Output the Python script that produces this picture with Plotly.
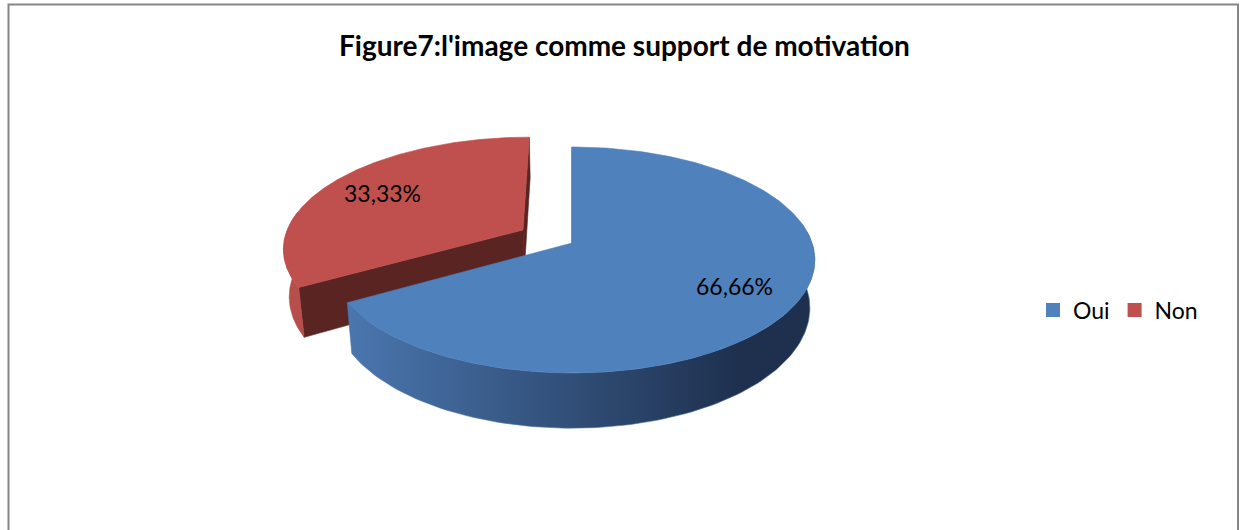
import numpy as np
import plotly.graph_objects as go

# ---------------- data ----------------
categories = ["Oui", "Non"]
percentages = [66.66, 33.33]
value_labels = ["66,66%", "33,33%"]

# ---------------- style ----------------
top_colors = ["#4f81bd", "#c0504d"]
wall_left_colors = ["#4a76ae", "#b64e4a"]
wall_right_colors = ["#1e304e", "#a8433f"]
cut_colors = ["#243a5e", "#5a2422"]
explode = [0.0, 0.24]

W, H = 1241, 530
CX, CY = 572.0, 243.0   # projected centre of the disc
RX, RY = 240.0, 110.4   # radii of the top ellipse
K = 0.15                # perspective: front of the disc drawn larger than the back
DEPTH = 47.0            # thickness of the disc
SHRINK = 0.98           # lower rim slightly narrower than the upper rim
LABEL_R = 0.74          # radial position of the value labels
GRAD_X0, GRAD_X1 = CX - RX * 0.93, CX + RX * 0.70
FONT = "Lato, 'Open Sans', sans-serif"


def project(u, v):
    """Map a point of the unit disc (u to the right, v towards the viewer) to the page."""
    d = 1.0 - K * v
    return CX + RX * u / d, CY + RY * v / d


def rim(theta_deg, ou, ov):
    t = np.radians(theta_deg)
    u = np.sin(t) + ou
    v = -np.cos(t) + ov
    x, y = project(u, v)
    return x, y, v


def lower(x, y, v):
    return CX + (np.asarray(x) - CX) * SHRINK, np.asarray(y) + DEPTH / (1.0 - K * np.asarray(v))


fig = go.Figure()


def add_poly(xs, ys, color, gradient=None):
    xs = list(xs) + [xs[0]]
    ys = list(ys) + [ys[0]]
    kw = dict(fillcolor=color)
    if gradient is not None:
        kw["fillgradient"] = gradient
    fig.add_trace(go.Scatter(
        x=xs, y=ys, mode="lines", fill="toself",
        line=dict(width=0.6, color=color),
        hoverinfo="skip", showlegend=False, **kw))


total = sum(percentages)
spans = [p / total * 360.0 for p in percentages]
starts = list(np.cumsum([0.0] + spans[:-1]))

slices = []
for i in range(len(categories)):
    a0, a1 = starts[i], starts[i] + spans[i]
    mid = (a0 + a1) / 2.0
    e = explode[i]
    ou, ov = e * np.sin(np.radians(mid)), -e * np.cos(np.radians(mid))
    slices.append(dict(i=i, a0=a0, a1=a1, mid=mid, ou=ou, ov=ov))

# back slices first
slices.sort(key=lambda s: -np.cos(np.radians(s["mid"])))

for s in slices:
    i, a0, a1, ou, ov = s["i"], s["a0"], s["a1"], s["ou"], s["ov"]
    ax, ay = project(ou, ov)
    bx, by = lower(ax, ay, ov)

    # radial cut faces that turn towards the viewer
    for a, normal in ((a0, a0 - 90.0), (a1, a1 + 90.0)):
        if -np.cos(np.radians(normal)) > -1e-6:
            rx, ry, rv = rim(a, ou, ov)
            lx, ly = lower(rx, ry, rv)
            add_poly([ax, rx, float(lx), float(bx)], [ay, ry, float(ly), float(by)], cut_colors[i])

    # curved outer wall (front half of the disc)
    w0, w1 = max(a0, 80.0), min(a1, 280.0)
    if w1 > w0:
        th = np.linspace(w0, w1, 120)
        tx, ty, tv = rim(th, ou, ov)
        lx, ly = lower(tx, ty, tv)
        xs = list(tx) + list(lx[::-1])
        ys = list(ty) + list(ly[::-1])
        grad = dict(type="horizontal", start=GRAD_X0, stop=GRAD_X1,
                    colorscale=[[0, wall_left_colors[i]], [1, wall_right_colors[i]]])
        add_poly(xs, ys, wall_left_colors[i], gradient=grad)

    # top face
    th = np.linspace(a0, a1, 240)
    tx, ty, _ = rim(th, ou, ov)
    add_poly([ax] + list(tx), [ay] + list(ty), top_colors[i])

# value labels
for s in slices:
    i = s["i"]
    r = LABEL_R + explode[i]
    t = np.radians(s["mid"])
    lx, ly = project(r * np.sin(t), -r * np.cos(t))
    fig.add_annotation(x=lx, y=ly, text=value_labels[i], showarrow=False,
                       font=dict(family=FONT, size=23, color="#000000"))

# legend entries
for i, name in enumerate(categories):
    fig.add_trace(go.Scatter(x=[None], y=[None], mode="markers", name=name,
                             marker=dict(symbol="square", size=14, color=top_colors[i])))

# chart frame
fig.add_shape(type="rect", x0=8.5, x1=1238, y0=4.5, y1=560,
              line=dict(color="#868686", width=2), fillcolor="rgba(0,0,0,0)")

fig.add_annotation(x=624, y=45, text="<b>Figure7:l'image comme support de motivation</b>",
                   showarrow=False, font=dict(family=FONT, size=28, color="#000000"))

fig.update_layout(
    width=W, height=H,
    margin=dict(l=0, r=0, t=0, b=0),
    paper_bgcolor="white", plot_bgcolor="white",
    xaxis=dict(range=[0, W], visible=False, fixedrange=True),
    yaxis=dict(range=[H, 0], visible=False, fixedrange=True),
    showlegend=True,
    legend=dict(orientation="h", x=1033 / W, y=1 - 310 / H, xanchor="left", yanchor="middle",
                font=dict(family=FONT, size=23, color="#000000"),
                bgcolor="rgba(0,0,0,0)", itemclick=False, itemdoubleclick=False),
)

fig.write_html("out.html")
